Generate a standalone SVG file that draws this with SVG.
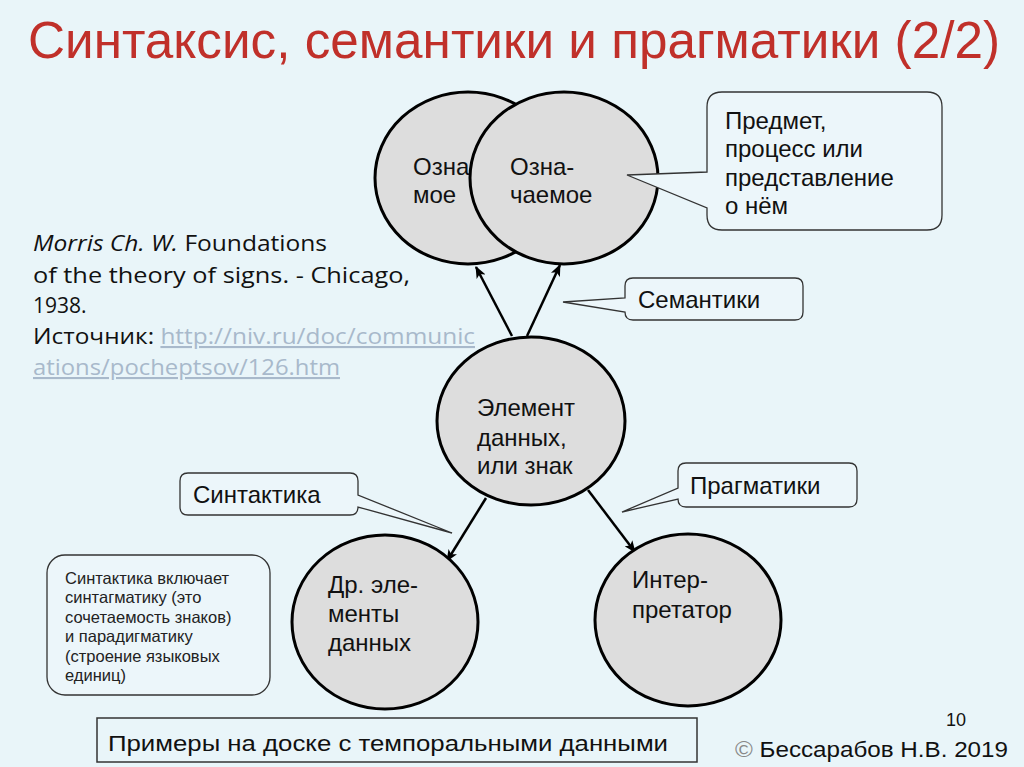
<svg xmlns="http://www.w3.org/2000/svg" width="1024" height="767" viewBox="0 0 1024 767">
<style>
.node{fill:#dddddd;stroke:#000;stroke-width:3}
.t{font-family:"Liberation Sans",Arial,sans-serif;font-size:24px;fill:#111}
.s{font-family:"Liberation Sans",Arial,sans-serif;font-size:16.5px;fill:#222}
.ref{font-family:"Open Sans","DejaVu Sans",sans-serif;font-size:21px;fill:#111}
.link{fill:#a8b9cb;text-decoration:underline}
.call{fill:#ecf6fa;stroke:#333;stroke-width:1.3}
.conn{stroke:#000;stroke-width:2.5;fill:none;marker-end:url(#ah)}
</style>
<defs>
<marker id="ah" markerUnits="userSpaceOnUse" markerWidth="12" markerHeight="10" refX="11" refY="5" orient="auto">
<path d="M0,0 L12,5 L0,10 L3,5 Z" fill="#000"/>
</marker>
</defs>
<rect width="1024" height="767" fill="#e9f5f9"/>
<text x="28" y="58" font-family="Liberation Sans,Arial,sans-serif" font-size="52" fill="#c0302a" textLength="972" lengthAdjust="spacingAndGlyphs">Синтаксис, семантики и прагматики (2/2)</text>

<g id="ref">
<text class="ref" x="33" y="251" textLength="294" lengthAdjust="spacingAndGlyphs"><tspan font-style="italic">Morris Ch. W.</tspan> Foundations</text>
<text class="ref" x="33" y="283" textLength="377" lengthAdjust="spacingAndGlyphs">of the theory of signs. - Chicago,</text>
<text class="ref" x="33" y="313">1938.</text>
<text class="ref" x="33" y="344" textLength="442" lengthAdjust="spacingAndGlyphs">Источник: <tspan class="link">http://niv.ru/doc/communic</tspan></text>
<text class="ref link" x="33" y="375" textLength="307" lengthAdjust="spacingAndGlyphs">ations/pocheptsov/126.htm</text>
</g>

<g id="connectors">
<line class="conn" x1="512" y1="336" x2="476" y2="267"/>
<line class="conn" x1="527" y1="336" x2="560" y2="265"/>
<line class="conn" x1="486" y1="498" x2="447" y2="561"/>
<line class="conn" x1="588" y1="490" x2="635" y2="552"/>
</g>

<g id="node-oznachaemoe-back">
<ellipse class="node" cx="468" cy="178" rx="93" ry="86"/>
<text class="t" x="413" y="175">Озна</text>
<text class="t" x="413" y="203">мое</text>
</g>
<g id="node-oznachaemoe">
<ellipse class="node" cx="564" cy="178" rx="94" ry="86"/>
<text class="t" x="510" y="175">Озна-</text>
<text class="t" x="510" y="203">чаемое</text>
</g>
<g id="node-element">
<ellipse class="node" cx="531" cy="421" rx="94" ry="84"/>
<text class="t" x="477" y="416">Элемент</text>
<text class="t" x="477" y="446">данных,</text>
<text class="t" x="477" y="474">или знак</text>
</g>
<g id="node-other">
<ellipse class="node" cx="385" cy="622" rx="93" ry="87"/>
<text class="t" x="328" y="593">Др. эле-</text>
<text class="t" x="328" y="622">менты</text>
<text class="t" x="328" y="651">данных</text>
</g>
<g id="node-interp">
<ellipse class="node" cx="688" cy="620" rx="93" ry="86"/>
<text class="t" x="632" y="588">Интер-</text>
<text class="t" x="632" y="618">претатор</text>
</g>

<g id="callout-predmet">
<path class="call" d="M722,92 H927 Q942,92 942,107 V215 Q942,230 927,230 H722 Q707,230 707,215 V208 L627,175 L707,172 V107 Q707,92 722,92 Z"/>
<text class="t" x="725" y="129">Предмет,</text>
<text class="t" x="725" y="157">процесс или</text>
<text class="t" x="725" y="186">представление</text>
<text class="t" x="725" y="214">о нём</text>
</g>
<g id="callout-semantiki">
<path class="call" d="M633,278 H795 Q803,278 803,286 V312 Q803,320 795,320 H633 Q625,320 625,312 L563,302 L625,298 V286 Q625,278 633,278 Z"/>
<text class="t" x="638" y="308">Семантики</text>
</g>
<g id="callout-sintaktika">
<path class="call" d="M188,473 H350 Q358,473 358,481 V495 L452,533 L358,507 Q358,515 350,515 H188 Q180,515 180,507 V481 Q180,473 188,473 Z"/>
<text class="t" x="193" y="503">Синтактика</text>
</g>
<g id="callout-pragmatiki">
<path class="call" d="M686,463 H849 Q857,463 857,471 V499 Q857,507 849,507 H686 Q678,507 678,499 L622,512 L678,488 V471 Q678,463 686,463 Z"/>
<text class="t" x="690" y="494">Прагматики</text>
</g>

<g id="note-sintaktika">
<rect class="call" x="47" y="555" width="223" height="140" rx="18"/>
<text class="s" x="65" y="584">Синтактика включает</text>
<text class="s" x="65" y="603">синтагматику (это</text>
<text class="s" x="65" y="623">сочетаемость знаков)</text>
<text class="s" x="65" y="642">и парадигматику</text>
<text class="s" x="65" y="662">(строение языковых</text>
<text class="s" x="65" y="681">единиц)</text>
</g>

<g id="examples">
<rect x="97" y="718" width="600" height="44" fill="none" stroke="#333" stroke-width="1.5"/>
<text x="108" y="751" font-family="Liberation Sans,Arial,sans-serif" font-size="22" fill="#111" textLength="560" lengthAdjust="spacingAndGlyphs">Примеры на доске с темпоральными данными</text>
</g>
<text x="946" y="726" font-family="Liberation Sans,Arial,sans-serif" font-size="18" fill="#111">10</text>
<text x="735" y="757" font-family="Liberation Sans,Arial,sans-serif" font-size="22" fill="#111" textLength="273" lengthAdjust="spacingAndGlyphs"><tspan fill="#888">©</tspan> Бессарабов Н.В.  2019</text>
</svg>
